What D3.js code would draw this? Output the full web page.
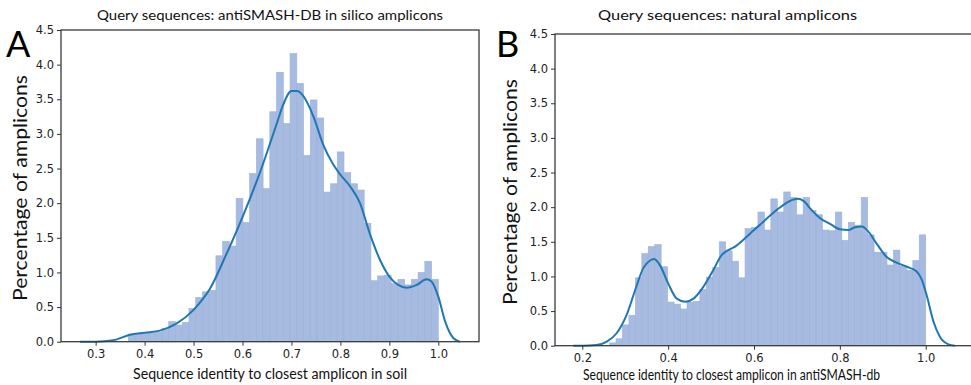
<!DOCTYPE html>
<html><head><meta charset="utf-8">
<script src="https://cdn.jsdelivr.net/npm/d3@7"></script>
<style>body{margin:0;background:#fff}</style>
</head><body>
<svg id="c" width="971" height="385"></svg>
<script>
// ---------- DATA ----------
// Panel A: histogram bar heights (percentage of amplicons), equal-width bins
const leftBinRange = [0.3667, 1.0];
const leftHist = [0.11,0.12,0.12,0.13,0.14,0.19,0.29,0.24,0.28,0.48,
  0.64,0.72,0.74,1.24,1.45,1.38,2.07,1.72,2.43,2.93,
  2.21,3.32,3.89,3.15,4.16,3.73,2.69,3.49,3.23,2.16,
  2.28,2.74,2.44,2.28,2.19,1.71,0.88,0.95,0.96,0.84,
  0.90,0.82,0.90,1.00,1.16,0.90];
// Panel A: KDE curve points
const leftKdeX = [0.268,0.30,0.336,0.37,0.40,0.431,0.465,0.50,0.534,0.568,0.60,0.636,0.67,0.683,0.70,0.711,0.724,0.745,0.765,0.786,0.80,0.82,0.84,0.86,0.881,0.90,0.918,0.935,0.956,0.976,0.986,1.0,1.014,1.031,1.044];
const leftKdeY = [0.0,0.0,0.02,0.10,0.13,0.16,0.26,0.46,0.77,1.28,1.80,2.45,3.15,3.42,3.62,3.62,3.55,3.25,2.84,2.55,2.41,2.24,2.0,1.56,1.18,0.94,0.82,0.78,0.82,0.90,0.87,0.65,0.29,0.05,0.0];

// Panel B
const rightBinRange = [0.2635, 1.0];
const rightHist = [0.04,0.10,0.30,0.44,0.98,1.33,1.43,1.46,1.14,0.63,
  0.60,0.53,0.63,0.64,0.81,0.99,1.13,1.50,1.37,1.22,
  0.98,1.69,1.71,1.93,1.67,2.12,1.93,2.22,2.14,1.89,
  2.14,1.95,1.89,1.67,1.66,1.93,1.52,1.78,1.74,2.14,
  1.60,1.35,1.35,1.165,1.38,1.15,1.09,1.23,1.60];
const rightKdeX = [0.179,0.20,0.233,0.257,0.28,0.303,0.323,0.342,0.358,0.367,0.381,0.40,0.42,0.44,0.459,0.482,0.505,0.525,0.54,0.556,0.579,0.60,0.622,0.645,0.668,0.692,0.703,0.715,0.734,0.754,0.777,0.80,0.82,0.835,0.851,0.866,0.886,0.909,0.932,0.956,0.979,0.991,1.003,1.018,1.033,1.053,1.068];
const rightKdeY = [0.0,0.0,0.01,0.06,0.18,0.44,0.80,1.12,1.23,1.25,1.16,0.90,0.68,0.635,0.68,0.85,1.09,1.31,1.38,1.43,1.55,1.67,1.79,1.92,2.03,2.11,2.12,2.09,1.96,1.84,1.76,1.68,1.67,1.71,1.72,1.65,1.47,1.28,1.20,1.14,1.07,0.95,0.71,0.35,0.13,0.02,0.0];

const yTicks = [0.0,0.5,1.0,1.5,2.0,2.5,3.0,3.5,4.0,4.5];
const leftXTicks = [0.3,0.4,0.5,0.6,0.7,0.8,0.9,1.0];
const rightXTicks = [0.2,0.4,0.6,0.8,1.0];

const titles = ["Query sequences: antiSMASH-DB in silico amplicons","Query sequences: natural amplicons"];
const xLabels = ["Sequence identity to closest amplicon in soil","Sequence identity to closest amplicon in antiSMASH-db"];
const yLabel = "Percentage of amplicons";
const panelLetters = ["A","B"];

// ---------- DRAW ----------
const svg = d3.select("#c");
const labelFont = "Lato, 'Open Sans', sans-serif";
const tickFont = "'DejaVu Sans', sans-serif";

function panel(o) {
  const x = d3.scaleLinear().domain(o.xDomain).range([o.left, o.right]);
  const y = d3.scaleLinear().domain([0, 4.5]).range([o.bottom, o.top]);
  const g = svg.append("g");

  // bars
  const n = o.hist.length;
  const edge = d3.scaleLinear().domain([0, n]).range(o.binRange);
  g.append("g").selectAll("rect").data(o.hist).join("rect")
    .attr("x", (d,i) => x(edge(i)))
    .attr("width", (d,i) => x(edge(i+1)) - x(edge(i)))
    .attr("y", d => y(d))
    .attr("height", d => y(0) - y(d))
    .attr("fill", "#a7badf")
    .attr("stroke", "#9cb1da")
    .attr("stroke-width", 0.6);

  // kde
  const line = d3.line().x(d => x(d[0])).y(d => y(d[1])).curve(d3.curveMonotoneX);
  g.append("path").datum(d3.zip(o.kdeX, o.kdeY))
    .attr("d", line).attr("fill", "none")
    .attr("stroke", "#1f77b4").attr("stroke-width", 2);

  // axes
  const xa = g.append("g").attr("transform", `translate(0,${o.bottom})`)
    .call(d3.axisBottom(x).tickValues(o.xTicks).tickFormat(d3.format(".1f")).tickSizeOuter(0).tickSize(4).tickPadding(4));
  const ya = g.append("g").attr("transform", `translate(${o.left},0)`)
    .call(d3.axisLeft(y).tickValues(yTicks).tickFormat(d3.format(".1f")).tickSizeOuter(0).tickSize(4).tickPadding(3));
  [xa, ya].forEach(a => {
    a.select(".domain").remove();
    a.selectAll("line").attr("stroke", "#333").attr("stroke-width", 1);
    a.selectAll("text").attr("font-family", tickFont).attr("font-size", 11.5).attr("fill", "#222");
  });

  // frame
  g.append("rect").attr("x", o.left).attr("y", o.top)
    .attr("width", o.right - o.left).attr("height", o.bottom - o.top)
    .attr("fill", "none").attr("stroke", "#3a3a3a").attr("stroke-width", 1.3);

  // texts
  g.append("text").text(o.title).attr("x", o.titleX[0]).attr("y", o.titleY)
    .attr("textLength", o.titleX[1] - o.titleX[0]).attr("lengthAdjust", "spacingAndGlyphs")
    .attr("font-family", labelFont).attr("font-size", 14).attr("fill", "#111");
  g.append("text").text(o.xLabel).attr("x", o.xLabelX[0]).attr("y", o.xLabelY)
    .attr("textLength", o.xLabelX[1] - o.xLabelX[0]).attr("lengthAdjust", "spacingAndGlyphs")
    .attr("font-family", labelFont).attr("font-size", 14.5).attr("fill", "#111");
  g.append("text").text(yLabel)
    .attr("transform", `translate(${o.yLabelX},${o.yLabelSpan[0]}) rotate(-90)`)
    .attr("textLength", o.yLabelSpan[0] - o.yLabelSpan[1]).attr("lengthAdjust", "spacingAndGlyphs")
    .attr("font-family", labelFont).attr("font-size", 20).attr("fill", "#111");
  g.append("text").text(o.letter).attr("x", o.letterX).attr("y", 57)
    .attr("font-family", labelFont).attr("font-size", 36).attr("fill", "#000");
}

panel({left: 61, right: 479, top: 30, bottom: 341.7,
  xDomain: [0.2292, 1.0831], hist: leftHist, binRange: leftBinRange,
  kdeX: leftKdeX, kdeY: leftKdeY, xTicks: leftXTicks,
  title: titles[0], titleX: [97, 443], titleY: 20,
  xLabel: xLabels[0], xLabelX: [133, 407], xLabelY: 379,
  yLabelX: 27, yLabelSpan: [301, 75], letter: panelLetters[0], letterX: 6});

panel({left: 555, right: 974, top: 34, bottom: 345.7,
  xDomain: [0.1364, 1.1125], hist: rightHist, binRange: rightBinRange,
  kdeX: rightKdeX, kdeY: rightKdeY, xTicks: rightXTicks,
  title: titles[1], titleX: [598, 857], titleY: 20,
  xLabel: xLabels[1], xLabelX: [583, 880], xLabelY: 380,
  yLabelX: 517, yLabelSpan: [305, 79], letter: panelLetters[1], letterX: 496});
</script>
</body></html>
